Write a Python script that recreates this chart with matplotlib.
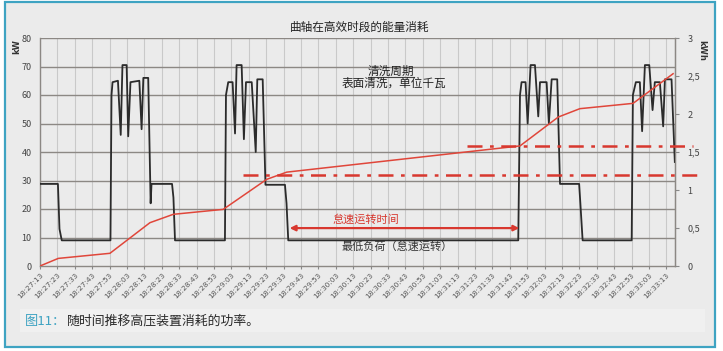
import matplotlib
matplotlib.use("Agg")
import matplotlib.pyplot as plt
from matplotlib.patches import Rectangle
from matplotlib.lines import Line2D

plt.rcParams['font.family'] = ['Noto Sans CJK SC', 'DejaVu Sans']

# ---------------- data ----------------
# seconds after 18:27:13
power_t = [0, 10.3, 11.2, 12.5, 40.5, 41.1, 41.7, 44.8, 46.4, 47.4, 49.8, 50.7, 52.0, 57.1,
           58.4, 59.4, 62.2, 63.6, 64.1, 75.9, 76.7, 77.6,
           106.3, 106.9, 108.2, 110.7, 112.1, 113.0, 115.9, 117.2, 118.4, 121.7, 124.0, 124.9,
           128.0, 129.6, 140.8, 141.7, 142.7,
           274.9, 275.9, 276.8, 279.1, 280.3, 282.0, 284.5, 286.4, 287.4, 291.2, 292.5, 294.1,
           297.3, 298.9, 309.9, 310.6, 311.9,
           340.1, 340.8, 342.5, 344.8, 346.1, 347.7, 350.2, 352.1, 353.4, 356.3, 358.2, 359.2,
           363.0, 364.9]
power_kw = [28.8, 28.8, 13, 9, 9, 60, 64.5, 65, 46, 70.5, 70.5, 45.5, 64.5, 65,
            48, 66, 66, 22, 28.8, 28.8, 24, 9,
            9, 60, 64.5, 64.5, 46.5, 70.5, 70.5, 44.5, 64.5, 64.5, 40, 65.5,
            65.5, 28.5, 28.5, 22, 9,
            9, 60, 64.5, 64.5, 50, 70.5, 70.5, 52.5, 64.5, 64.5, 50, 65.5,
            65.5, 28.8, 28.8, 22, 9,
            9, 60, 64.5, 64.5, 47.3, 70.5, 70.5, 54.7, 64.5, 64.5, 49, 65.5,
            65.5, 36.5]

energy_t = [0, 10.5, 40.2, 63.2, 76.6, 105.3, 130.3, 141.8, 275.9, 297.9, 310.3, 340.9, 363.9]
energy_kwh = [0, 0.10, 0.167, 0.57, 0.68, 0.745, 1.14, 1.235, 1.58, 1.96, 2.07, 2.14, 2.53]

level_low = 1.2
level_low_span = [116.7, 377.6]
level_high = 1.58
level_high_span = [245.4, 375.3]

idle_span = [143.5, 275.5]

tick_labels = ["18:27:13", "18:27:23", "18:27:33", "18:27:43", "18:27:53", "18:28:03",
               "18:28:13", "18:28:23", "18:28:33", "18:28:43", "18:28:53", "18:29:03",
               "18:29:13", "18:29:23", "18:29:33", "18:29:43", "18:29:53", "18:30:03",
               "18:30:13", "18:30:23", "18:30:33", "18:30:43", "18:30:53", "18:31:03",
               "18:31:13", "18:31:23", "18:31:33", "18:31:43", "18:31:53", "18:32:03",
               "18:32:13", "18:32:23", "18:32:33", "18:32:43", "18:32:53", "18:33:03",
               "18:33:13"]
tick_pos = [10 * i for i in range(len(tick_labels))]

left_ticks = [0, 10, 20, 30, 40, 50, 60, 70, 80]
right_ticks = [0, 0.5, 1, 1.5, 2, 2.5, 3]
right_labels = ["0", "0,5", "1", "1,5", "2", "2,5", "3"]

# ---------------- figure ----------------
W, H = 723, 351
fig = plt.figure(figsize=(W / 100, H / 100), dpi=100, facecolor='white')

def fx(px):
    return px / W

def fy(py):
    return 1 - py / H

# page panel with teal frame
fig.add_artist(Rectangle((fx(5), fy(347)), fx(715) - fx(5), fy(2) - fy(347),
                         transform=fig.transFigure, facecolor='#ebebeb',
                         edgecolor='#3ea3c2', linewidth=1.6, zorder=-10))
# caption band
fig.add_artist(Rectangle((fx(20), fy(332)), fx(705) - fx(20), fy(309) - fy(332),
                         transform=fig.transFigure, facecolor='#f0f0f0',
                         edgecolor='none', zorder=-9))

ax = fig.add_axes([fx(40), fy(266), fx(675) - fx(40), fy(38) - fy(266)])
ax.set_facecolor('none')
ax.set_xlim(0, 365)
ax.set_ylim(0, 80)

# grid
for x in tick_pos:
    ax.axvline(x, color='#c9c9c9', lw=0.8, zorder=0)
for y in left_ticks[1:]:
    ax.axhline(y, color='#8c8884', lw=1.0, zorder=0)

ax.plot(power_t, power_kw, color='#2b2b2b', lw=1.3, zorder=3)

ax.set_yticks(left_ticks)
ax.set_xticks(tick_pos)
ax.set_xticklabels(tick_labels, rotation=45, ha='right', rotation_mode='anchor',
                   fontsize=5.3, color='#555555', family='DejaVu Sans')
ax.tick_params(axis='x', length=2.5, color='#888888', pad=2)
ax.tick_params(axis='y', length=0, labelsize=6.5, labelcolor='#444444', pad=6)
for s in ['left', 'bottom', 'right']:
    ax.spines[s].set_color('#8c8884')
    ax.spines[s].set_linewidth(1.0)
ax.spines['top'].set_visible(False)

ax2 = ax.twinx()
ax2.set_ylim(0, 3)
ax2.set_yticks(right_ticks)
ax2.set_yticklabels(right_labels)
ax2.tick_params(axis='y', length=3, color='#888888', labelsize=6.5, labelcolor='#444444', pad=6)
for s in ['left', 'bottom', 'top']:
    ax2.spines[s].set_visible(False)
ax2.spines['right'].set_color('#8c8884')

ax2.plot(energy_t, energy_kwh, color='#e0463a', lw=1.1, zorder=4)

dash = (0, (6, 3, 1.5, 3))
ax2.plot(level_low_span, [level_low, level_low], color='#d8382f', lw=1.8,
         linestyle=dash, clip_on=False, zorder=5)
ax2.plot(level_high_span, [level_high, level_high], color='#d8382f', lw=1.8,
         linestyle=dash, clip_on=False, zorder=5)

# idle arrow (in kW axis units)
ax.annotate('', xy=(idle_span[0], 13.3), xytext=(idle_span[1], 13.3),
            arrowprops=dict(arrowstyle='<|-|>', color='#d8382f', lw=1.6,
                            mutation_scale=8, shrinkA=0, shrinkB=0), zorder=6)
ax.text(187, 16.2, '怠速运转时间', color='#d8382f', fontsize=8, ha='center', va='center')
ax.text(205, 6.9, '最低负荷（怠速运转）', color='#333333', fontsize=8, ha='center', va='center')

# titles / annotations
fig.text(fx(360), fy(27), '曲轴在高效时段的能量消耗', fontsize=8.4, color='#222222',
         ha='center', va='center')
fig.text(fx(391), fy(71.5), '清洗周期', fontsize=8.4, color='#222222', ha='center', va='center')
fig.add_artist(Line2D([fx(368), fx(414)], [fy(76.8), fy(76.8)], transform=fig.transFigure,
                      color='#444444', lw=0.8))
fig.text(fx(394), fy(83.5), '表面清洗，单位千瓦', fontsize=8.4, color='#222222',
         ha='center', va='center')

fig.text(fx(17), fy(47), 'kW', fontsize=6, fontweight='bold', color='#333333',
         rotation=90, ha='center', va='center', family='DejaVu Sans')
fig.text(fx(702), fy(50), 'kWh', fontsize=6, fontweight='bold', color='#333333',
         rotation=270, ha='center', va='center', family='DejaVu Sans')

# caption
fig.text(fx(25), fy(321.5), '图11：', fontsize=9.5, color='#3ea3c2', ha='left', va='center')
fig.text(fx(67), fy(321.5), '随时间推移高压装置消耗的功率。', fontsize=9.3, color='#2a2a2a',
         ha='left', va='center')

fig.savefig('out.png', dpi=100, facecolor='white')
